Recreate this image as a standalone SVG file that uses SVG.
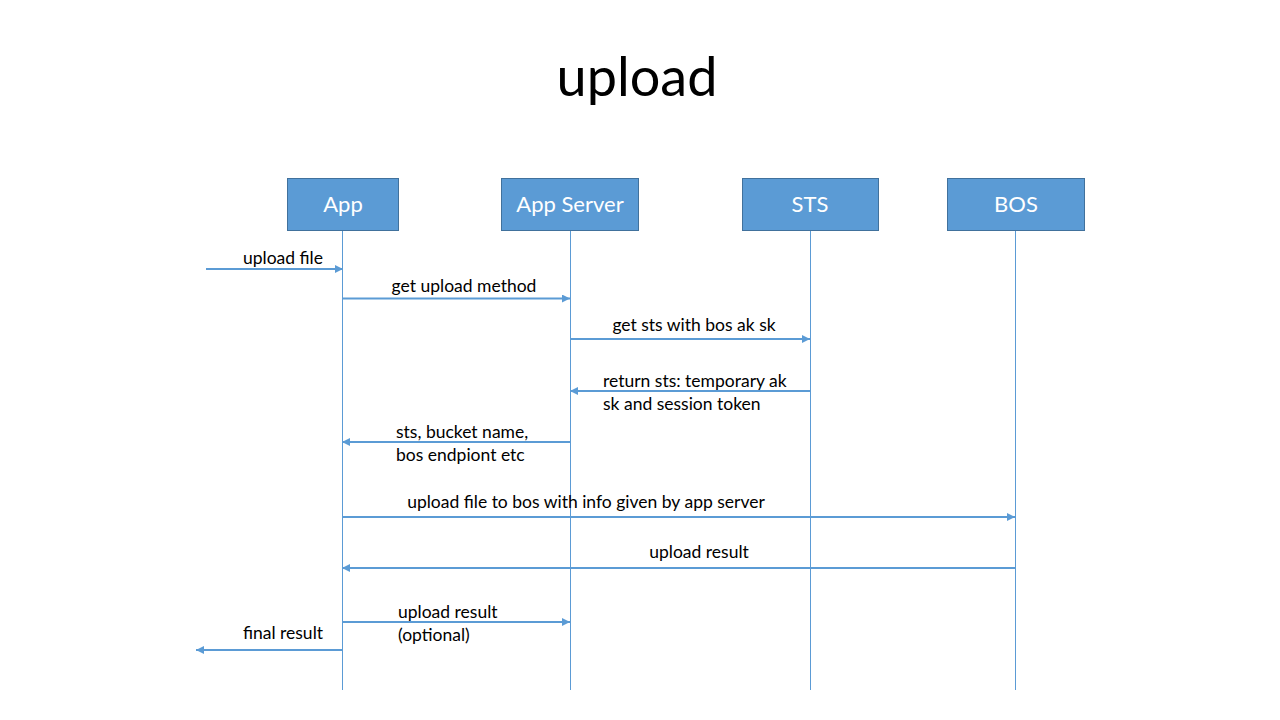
<svg xmlns="http://www.w3.org/2000/svg" width="1280" height="720" viewBox="0 0 1280 720">
<defs>
<marker id="ah" viewBox="0 0 10 10" refX="10" refY="5" markerWidth="8" markerHeight="8" markerUnits="userSpaceOnUse" orient="auto">
<path d="M0,0 L10,5 L0,10 z" fill="#5B9BD5"/>
</marker>
<style>
.box{fill:#5B9BD5;stroke:#41719C;stroke-width:1}
.lbl{font-family:Lato,"Open Sans","Liberation Sans",sans-serif;font-size:22px;fill:#ffffff;text-anchor:middle}
.life{stroke:#5B9BD5;stroke-width:1;fill:none}
.msg{stroke:#5B9BD5;stroke-width:1.8;fill:none;marker-end:url(#ah)}
.t{font-family:Lato,"Open Sans","Liberation Sans",sans-serif;font-size:17.5px;fill:#000000}
.c{text-anchor:middle}
</style>
</defs>
<rect width="1280" height="720" fill="#ffffff"/>
<text x="637" y="96" font-family="Lato,'Open Sans','Liberation Sans',sans-serif" font-size="54" text-anchor="middle" fill="#000">upload</text>
<g id="lifelines">
<line class="life" x1="342.5" y1="230" x2="342.5" y2="690"/>
<line class="life" x1="570.5" y1="230" x2="570.5" y2="690"/>
<line class="life" x1="810.5" y1="230" x2="810.5" y2="690"/>
<line class="life" x1="1015.5" y1="230" x2="1015.5" y2="690"/>
</g>
<g id="app"><rect class="box" x="287.5" y="178.5" width="111" height="52"/><text class="lbl" x="343" y="212">App</text></g>
<g id="appserver"><rect class="box" x="501.5" y="178.5" width="137" height="52"/><text class="lbl" x="570" y="212">App Server</text></g>
<g id="sts"><rect class="box" x="742.5" y="178.5" width="136" height="52"/><text class="lbl" x="810" y="212">STS</text></g>
<g id="bos"><rect class="box" x="947.5" y="178.5" width="137" height="52"/><text class="lbl" x="1016" y="212">BOS</text></g>
<g id="connectors">
<line class="msg" x1="206" y1="269" x2="343" y2="269"/>
<line class="msg" x1="343" y1="298.5" x2="570" y2="298.5"/>
<line class="msg" x1="570" y1="339" x2="810" y2="339"/>
<line class="msg" x1="810" y1="391" x2="570" y2="391"/>
<line class="msg" x1="570" y1="442" x2="342" y2="442"/>
<line class="msg" x1="343" y1="517" x2="1015" y2="517"/>
<line class="msg" x1="1015" y1="568" x2="342" y2="568"/>
<line class="msg" x1="343" y1="622" x2="570" y2="622"/>
<line class="msg" x1="342" y1="650" x2="196" y2="650"/>
</g>
<g id="labels">
<text class="t c" x="283" y="264">upload file</text>
<text class="t c" x="464" y="292">get upload method</text>
<text class="t c" x="694" y="331">get sts with bos ak sk</text>
<text class="t" x="603" y="387">return sts: temporary ak</text>
<text class="t" x="603" y="410">sk and session token</text>
<text class="t" x="396" y="438">sts, bucket name,</text>
<text class="t" x="396" y="461">bos endpiont etc</text>
<text class="t c" x="586" y="508">upload file to bos with info given by app server</text>
<text class="t c" x="699" y="558">upload result</text>
<text class="t" x="398" y="618">upload result</text>
<text class="t" x="398" y="641">(optional)</text>
<text class="t c" x="283" y="639">final result</text>
</g>
</svg>
